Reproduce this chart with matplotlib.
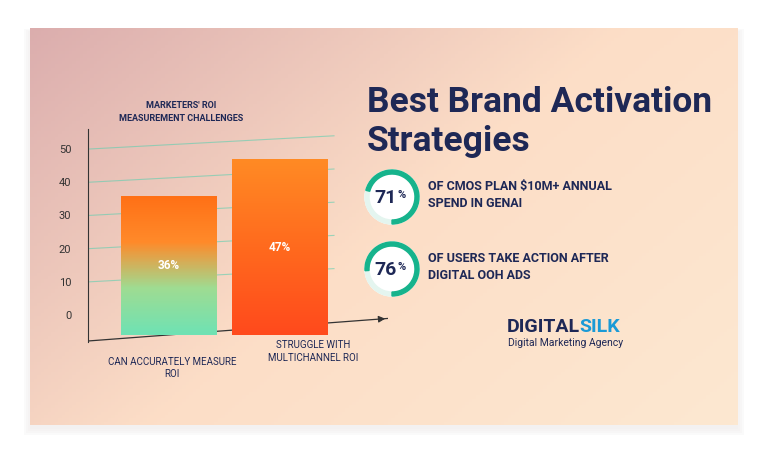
import numpy as np
import matplotlib.pyplot as plt
from matplotlib.patches import Rectangle, Wedge, Circle
from matplotlib.colors import LinearSegmentedColormap

plt.rcParams['font.family'] = ['Roboto', 'DejaVu Sans']

# data
categories = ["CAN ACCURATELY MEASURE\nROI", "STRUGGLE WITH\nMULTICHANNEL ROI"]
values = [36, 47]
yticks = [0, 10, 20, 30, 40, 50]
stats = [71, 76]
stat_texts = ["OF CMOS PLAN $10M+ ANNUAL\nSPEND IN GENAI", "OF USERS TAKE ACTION AFTER\nDIGITAL OOH ADS"]

NAVY = "#1e2856"
TEAL = "#16b38c"

fig = plt.figure(figsize=(7.68, 4.58), dpi=100)
fig.patch.set_facecolor("white")

# background card in pixel coordinates
bg = fig.add_axes([0, 0, 1, 1], zorder=0)
bg.set_xlim(0, 768)
bg.set_ylim(458, 0)
bg.axis("off")
for i, a in enumerate([0.02, 0.03, 0.04, 0.05]):
    bg.add_patch(Rectangle((30 - i * 2, 30 - i + 2), 708 + i * 4, 397 + i * 3, color="#b0a0a0", alpha=a, lw=0))
xx = np.linspace(0, 1, 200)
yy = np.linspace(0, 1, 120)
X, Y = np.meshgrid(xx, yy)
t = np.clip(0.6 * X + 0.4 * Y, 0, 1)
c0 = np.array([0.86, 0.68, 0.68])
c1 = np.array([0.99, 0.87, 0.78])
c2 = np.array([0.99, 0.91, 0.82])
img = np.where(t[..., None] < 0.5, c0 + (c1 - c0) * (t[..., None] / 0.5), c1 + (c2 - c1) * ((t[..., None] - 0.5) / 0.5))
bg.imshow(img, extent=(30, 738, 425, 28), aspect="auto", zorder=1)

# right side text
bg.text(367, 102, "Best Brand Activation", fontsize=25.5, fontweight="bold", color=NAVY, va="center", zorder=3)
bg.text(367, 142, "Strategies", fontsize=25.5, fontweight="bold", color=NAVY, va="center", zorder=3)
for i, (s, txt) in enumerate(zip(stats, stat_texts)):
    cx, cy = 392, 197 + i * 72
    bg.add_patch(Circle((cx, cy), 27, color="white", zorder=3))
    bg.add_patch(Wedge((cx, cy), 27, 0, 360, width=4, color="#e4f5ef", zorder=4))
    bg.add_patch(Wedge((cx, cy), 27, 90 - 360 * s / 100, 90, width=4, color=TEAL, zorder=5))
    bg.text(cx + 5, cy + 1, f"{s}", fontsize=14, fontweight="bold", color=NAVY, ha="right", va="center", zorder=6)
    bg.text(cx + 5, cy - 2, "%", fontsize=8, fontweight="bold", color=NAVY, ha="left", va="center", zorder=6)
    bg.text(428, cy - 2, txt, fontsize=9, fontweight="bold", color=NAVY, va="center", linespacing=1.35, zorder=6)

bg.text(507, 327, "DIGITAL", fontsize=14, fontweight="bold", color=NAVY, va="center", zorder=3)
bg.text(579, 327, "SILK", fontsize=14, fontweight="bold", color="#1b9ad6", va="center", zorder=3)
bg.text(508, 343, "Digital Marketing Agency", fontsize=7.5, color=NAVY, va="center", zorder=3)

# chart
ax = fig.add_axes([88 / 768, 0.254, 300 / 768, 0.464], zorder=1)
ax.set_facecolor("none")
for sp in ["top", "right", "bottom"]:
    ax.spines[sp].set_visible(False)
ax.spines["left"].set_color("#333333")
ax.spines["left"].set_bounds(-8, 56)
ax.set_yticks(yticks)
ax.set_yticklabels([str(v) for v in yticks], fontsize=8, color="#333333")
ax.tick_params(axis="y", length=0, pad=12)
ax.set_xticks([])
for v in yticks[1:]:
    ax.plot([0, 8.2], [v, v + 4], color="#5ccfb0", lw=0.8, alpha=0.6)
ax.plot([-0.3, 10], [-8, -1], color="#333333", lw=0.9)
ax.annotate("", xy=(10, -1), xytext=(9.6, -1.3), arrowprops=dict(arrowstyle="-|>", color="#333333", lw=0.8))

cmaps = [LinearSegmentedColormap.from_list("b1", ["#6fe2b4", "#9fdc92", "#ff8a2a", "#ff7016"]),
         LinearSegmentedColormap.from_list("b2", ["#ff4a1c", "#ff6a1e", "#ff8a24"])]
xs = [2.7, 6.4]
width = 3.2
base = -6
bars = ax.bar(xs, [v - base for v in values], width=width, bottom=base, color="none")
for bar, cm, v, x in zip(bars, cmaps, values, xs):
    grad = np.linspace(0, 1, 100).reshape(-1, 1)
    im = ax.imshow(grad, cmap=cm, origin="lower", aspect="auto",
                   extent=(bar.get_x(), bar.get_x() + width, base, v), zorder=2)
    im.set_clip_path(bar)
    ax.text(x, (v + base) / 2, f"{v}%", color="white", fontsize=8.5, fontweight="bold",
            ha="center", va="center", zorder=3)
ax.set_xlim(0, 10)
ax.set_ylim(-8, 56)

ax.text(3.1, 58, "MARKETERS' ROI\nMEASUREMENT CHALLENGES", fontsize=6.5, fontweight="bold", color=NAVY,
        ha="center", va="bottom", linespacing=1.5)
ax.text(2.8, -16, categories[0], fontsize=7, color=NAVY, ha="center", va="center", linespacing=1.3)
ax.text(7.5, -11, categories[1], fontsize=7, color=NAVY, ha="center", va="center", linespacing=1.3)

fig.savefig("out.png", dpi=100)
